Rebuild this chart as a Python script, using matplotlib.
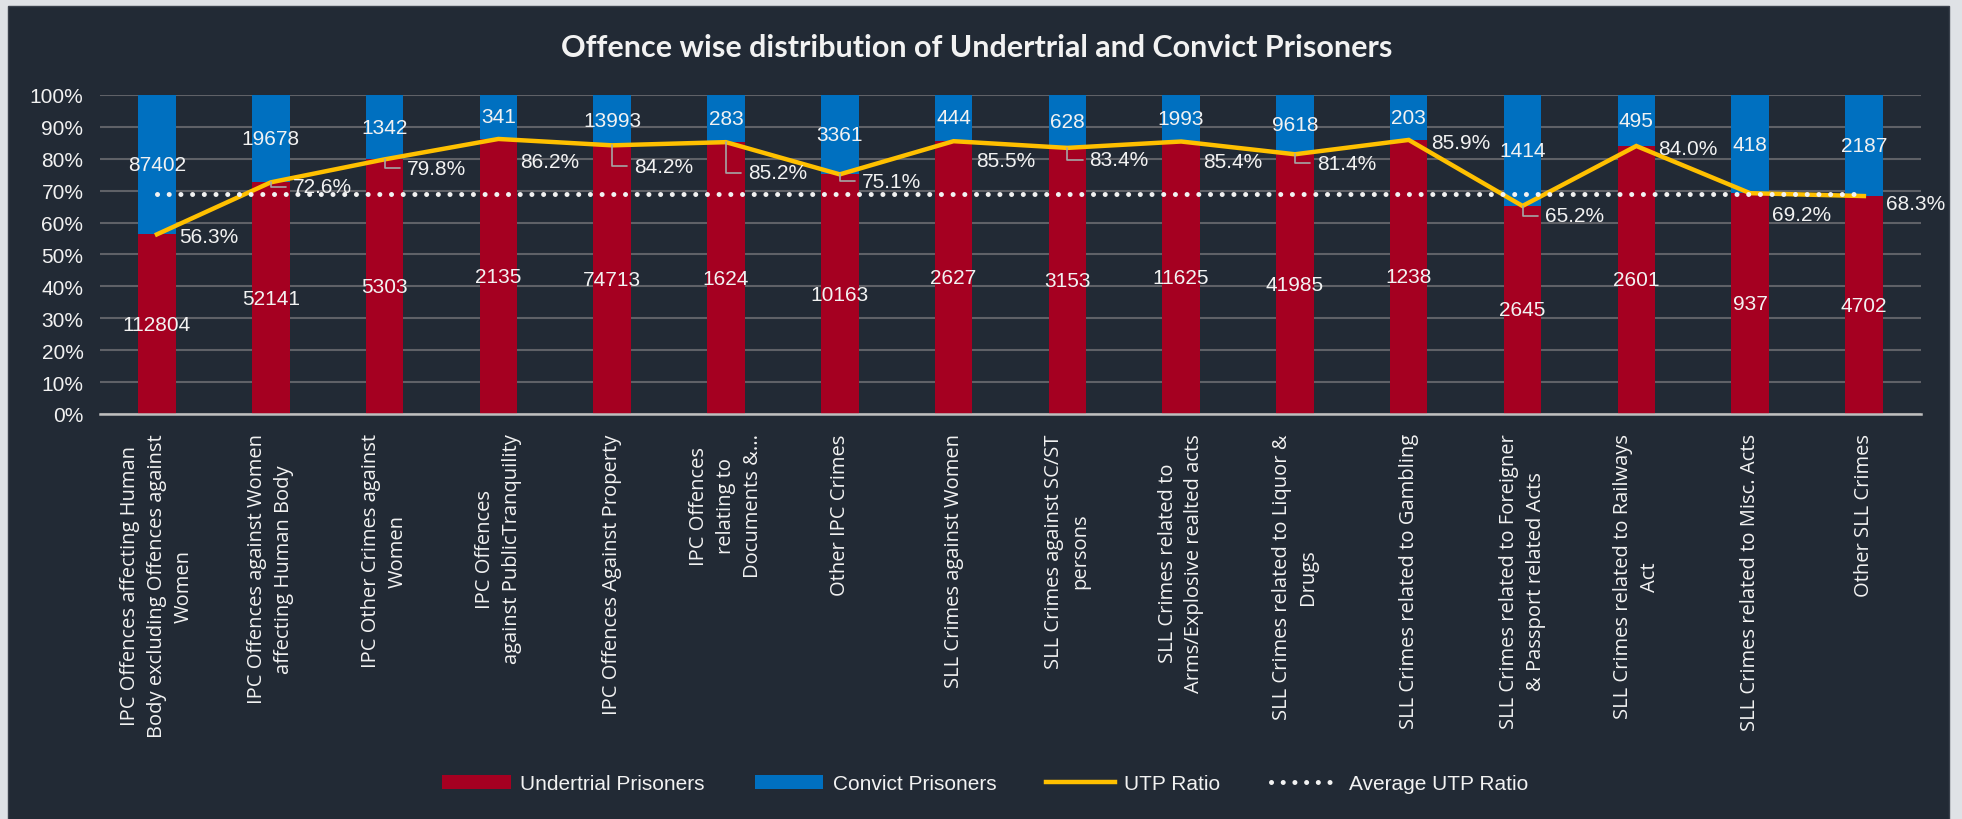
import matplotlib.pyplot as plt
import numpy as np
from matplotlib.patches import Rectangle, Patch
from matplotlib.lines import Line2D

categories = [
    "IPC Offences affecting Human\nBody excluding Offences against\nWomen",
    "IPC Offences against Women\naffecting Human Body",
    "IPC Other Crimes against\nWomen",
    "IPC Offences\nagainst PublicTranquility",
    "IPC Offences Against Property",
    "IPC Offences\nrelating to\nDocuments &...",
    "Other IPC Crimes",
    "SLL Crimes against Women",
    "SLL Crimes against SC/ST\npersons",
    "SLL Crimes related to\nArms/Explosive realted acts",
    "SLL Crimes related to Liquor &\nDrugs",
    "SLL Crimes related to Gambling",
    "SLL Crimes related to Foreigner\n& Passport related Acts",
    "SLL Crimes related to Railways\nAct",
    "SLL Crimes related to Misc. Acts",
    "Other SLL Crimes",
]
undertrial = [112804, 52141, 5303, 2135, 74713, 1624, 10163, 2627,
              3153, 11625, 41985, 1238, 2645, 2601, 937, 4702]
convict = [87402, 19678, 1342, 341, 13993, 283, 3361, 444,
           628, 1993, 9618, 203, 1414, 495, 418, 2187]
utp_ratio = [56.3, 72.6, 79.8, 86.2, 84.2, 85.2, 75.1, 85.5,
             83.4, 85.4, 81.4, 85.9, 65.2, 84.0, 69.2, 68.3]
average_utp = 69.1

# label placement (points below the line point) and which labels get a leader line
label_dy = [1.5, 3.3, 6.5, 16.5, 15, 22, 4.8, 14, 8.6, 14.7, 6.5, 1.9, 7.2, 1.7, 15, 5]
leader = [0, 1, 1, 0, 1, 1, 1, 0, 1, 0, 1, 0, 1, 0, 0, 0]

bg = "#222a35"
txt = "#f2f2f2"
red = "#a50021"
blue = "#0070c0"
yellow = "#ffc000"
dots = (0, (0.01, 2.33))

ut = np.array(undertrial, dtype=float)
cv = np.array(convict, dtype=float)
ut_share = ut / (ut + cv) * 100
cv_share = 100 - ut_share
x = np.arange(len(categories))

fig = plt.figure(figsize=(19.62, 8.2), dpi=100)
fig.patch.set_facecolor("#dfe2e6")

# dark chart panel behind everything
bg_ax = fig.add_axes([0, 0, 1, 1], zorder=-10)
bg_ax.set_axis_off()
bg_ax.set_xlim(0, 1962)
bg_ax.set_ylim(820, 0)
bg_ax.add_patch(Rectangle((8, 7), 1941, 820, facecolor=bg, edgecolor="#3a414c", lw=1))

ax = fig.add_axes([0.051, 0.494, 0.928, 0.389])
ax.patch.set_alpha(0)

num_font = ["Liberation Sans", "DejaVu Sans"]

ax.bar(x, ut_share, width=0.33, color=red, zorder=2)
ax.bar(x, cv_share, width=0.33, bottom=ut_share, color=blue, zorder=2)
ax.plot(x, utp_ratio, color=yellow, lw=3.2, zorder=3, solid_joinstyle="miter")
ax.plot(x, [average_utp] * len(x), color="#f2f2f2", lw=3.6, zorder=4,
        linestyle=dots, dash_capstyle="round")

for i in range(len(x)):
    ax.text(x[i], ut_share[i] / 2, str(undertrial[i]), ha="center", va="center",
            color=txt, fontsize=15, family=num_font, zorder=5)
    ax.text(x[i], ut_share[i] + cv_share[i] / 2, str(convict[i]), ha="center",
            va="center", color=txt, fontsize=15, family=num_font, zorder=5)
    props = None
    if leader[i]:
        props = dict(arrowstyle="-", color="#a6a6a6", lw=1.2, relpos=(0, 0.5),
                     shrinkA=3, shrinkB=0,
                     connectionstyle="angle,angleA=0,angleB=90,rad=0")
    ax.annotate("{:.1f}%".format(utp_ratio[i]), xy=(x[i], utp_ratio[i]),
                xytext=(16, -label_dy[i]), textcoords="offset points",
                ha="left", va="center", color=txt, fontsize=15,
                family=num_font, zorder=6, arrowprops=props)

ax.set_xlim(-0.5, len(x) - 0.5)
ax.set_ylim(0, 100)
ax.set_yticks(np.arange(0, 101, 10))
ax.set_yticklabels(["{}%".format(v) for v in range(0, 101, 10)],
                   family=num_font, fontsize=15, color=txt)
ax.set_xticks(x)
ax.set_xticklabels(categories, rotation=90, family=["Open Sans", "DejaVu Sans"],
                   fontsize=14.5, color=txt, linespacing=1.45,
                   ha="center", va="top", multialignment="center")
ax.tick_params(axis="both", length=0)
ax.tick_params(axis="y", pad=12)
ax.tick_params(axis="x", pad=14)
ax.grid(axis="y", color="#5f6167", lw=1.5, zorder=1)
ax.set_axisbelow(True)
for s in ["top", "right", "left"]:
    ax.spines[s].set_visible(False)
ax.spines["bottom"].set_color("#bfbfbf")
ax.spines["bottom"].set_linewidth(1.8)
ax.spines["bottom"].set_zorder(3)

fig.text(0.498, 0.942, "Offence wise distribution of Undertrial and Convict Prisoners",
         ha="center", va="center", color=txt, fontsize=22, fontweight="bold",
         family=["Lato", "DejaVu Sans"])

handles = [
    Patch(facecolor=red, label="Undertrial Prisoners"),
    Patch(facecolor=blue, label="Convict Prisoners"),
    Line2D([], [], color=yellow, lw=3.2, label="UTP Ratio"),
    Line2D([], [], color="#f2f2f2", lw=3.6, linestyle=dots,
           dash_capstyle="round", label="Average UTP Ratio"),
]
leg = fig.legend(handles=handles, loc="center", bbox_to_anchor=(0.502, 0.043),
                 ncol=4, frameon=False, handlelength=3.3, handleheight=0.7,
                 handletextpad=0.45, columnspacing=2.4,
                 prop={"family": num_font, "size": 15})
for t in leg.get_texts():
    t.set_color(txt)

fig.savefig("out.png", dpi=100, facecolor=fig.get_facecolor())
